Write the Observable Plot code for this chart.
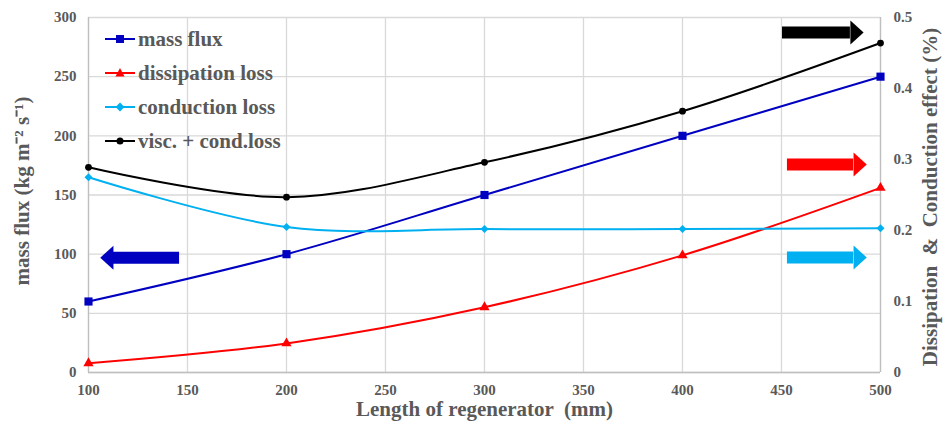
<!DOCTYPE html>
<html><head><meta charset="utf-8">
<script src="https://cdn.jsdelivr.net/npm/d3@7"></script>
<script src="https://cdn.jsdelivr.net/npm/@observablehq/plot@0.6"></script>
<style>
body{margin:0;background:#fff}
#wrap{position:relative;width:945px;height:428px;font-family:"Liberation Serif","Times New Roman",serif;font-weight:bold;color:#595959}
#legend{position:absolute;left:105px;top:22px}
.item{display:flex;align-items:center;height:34px;font-size:21px;white-space:nowrap}
.item svg{margin-right:3px}
</style>
</head><body>
<div id="wrap"><div id="chart"></div><div id="legend"></div></div>
<script>
// ---- data ----
const lengths = [100, 200, 300, 400, 500];
const massFlux = [60, 100, 150, 200, 250];            // left axis
const dissipationLoss = [0.013, 0.041, 0.092, 0.165, 0.26];   // right axis (%)
const conductionLoss = [0.275, 0.205, 0.202, 0.202, 0.203];  // right axis (%)
const viscCondLoss = [0.289, 0.247, 0.296, 0.368, 0.464];    // right axis (%)

const seriesNames = ["mass flux", "dissipation loss", "conduction loss", "visc. + cond.loss"];
const seriesColors = ["#0000c0", "#ff0000", "#00b0f0", "#000000"];
const seriesSymbols = ["square", "triangle", "diamond2", "circle"];

const xTicks = [100, 150, 200, 250, 300, 350, 400, 450, 500];
const leftTicks = [0, 50, 100, 150, 200, 250, 300];
const rightTicks = [0, 0.1, 0.2, 0.3, 0.4, 0.5];

const xTitle = "Length of regenerator  (mm)";
const leftTitle = "mass flux (kg m\u207B\u00B2 s\u207B\u00B9)";
const rightTitle = "Dissipation  &  Conduction effect (%)";

// annotation arrows: tail x, head-base x, y (left-axis units), direction, colour
const arrowTail = [146, 450.5, 453, 453];
const arrowBase = [112.6, 484.8, 486.4, 486.4];
const arrowY = [97, 287.3, 175.8, 97.2];
const arrowDir = ["left", "right", "right", "right"];
const arrowColor = ["#0000c0", "#000000", "#ff0000", "#00b0f0"];

// ---- build ----
const k = 300 / 0.5; // right -> left axis factor
const rightSeries = [dissipationLoss, conductionLoss, viscCondLoss];
const rows = [];
lengths.forEach((x, i) => rows.push({s: 0, x, y: massFlux[i]}));
rightSeries.forEach((arr, j) => lengths.forEach((x, i) => rows.push({s: j + 1, x, y: arr[i] * k})));

const arrows = arrowTail.map((t, i) => ({tail: t, base: arrowBase[i], y: arrowY[i], dir: arrowDir[i], c: arrowColor[i]}));
const headSymbol = {draw(ctx, size) {
  const r = Math.sqrt(size / Math.PI);
  ctx.moveTo(0, -r); ctx.lineTo(r * 1.1, 0); ctx.lineTo(0, r); ctx.closePath();
}};

const grey = "#595959";
const lineMarks = seriesNames.map((n, j) => Plot.line(rows.filter(d => d.s === j), {
  x: "x", y: "y", stroke: seriesColors[j], strokeWidth: 2, curve: "catmull-rom"
}));
const dotR = [4.6, 3.8, 3.6, 3.4];
const dotMarks = seriesNames.map((n, j) => Plot.dot(rows.filter(d => d.s === j), {
  x: "x", y: "y", fill: seriesColors[j], stroke: "none", symbol: seriesSymbols[j], r: dotR[j]
}));

const chart = Plot.plot({
  width: 945, height: 428,
  marginLeft: 88, marginRight: 65, marginTop: 17, marginBottom: 56,
  x: {domain: [100, 500]},
  y: {domain: [0, 300]},
  style: {fontFamily: '"Liberation Serif","Times New Roman",serif', fontWeight: "bold", fontSize: "15px", color: grey, background: "white"},
  marks: [
    Plot.gridX(xTicks, {stroke: "#d9d9d9", strokeOpacity: 1, strokeWidth: 1.3}),
    Plot.gridY(leftTicks, {stroke: "#d9d9d9", strokeOpacity: 1, strokeWidth: 1.3}),
    Plot.ruleX([100, 500], {stroke: "#bfbfbf", strokeWidth: 1.3}),
    Plot.ruleY([0], {stroke: "#bfbfbf", strokeWidth: 1.3}),
    Plot.axisX(xTicks, {tickSize: 0, tickPadding: 12, label: null, fill: grey}),
    Plot.axisY(leftTicks, {tickSize: 0, tickPadding: 12, label: null, fill: grey}),
    Plot.axisY(rightTicks.map(v => v * k), {anchor: "right", tickSize: 0, tickPadding: 13, label: null, fill: grey,
      tickFormat: d => String(+(d / k).toFixed(1))}),
    ...lineMarks,
    ...dotMarks,
    Plot.ruleY(arrows, {y: "y", x1: "tail", x2: "base", stroke: "c", strokeWidth: 12}),
    Plot.dot(arrows, {x: "base", y: "y", fill: "c", stroke: "none", symbol: headSymbol, r: 12,
      rotate: d => d.dir === "left" ? 180 : 0}),
    Plot.text([xTitle], {frameAnchor: "bottom", dy: 43, fontSize: 21, text: d => d, fill: grey, textAnchor: "middle"}),
    Plot.text([leftTitle], {frameAnchor: "left", dx: -66, dy: -4, rotate: -90, fontSize: 21, text: d => d, fill: grey, textAnchor: "middle", lineAnchor: "middle"}),
    Plot.text([rightTitle], {frameAnchor: "right", dx: 50, dy: 2, rotate: -90, fontSize: 21, text: d => d, fill: grey, textAnchor: "middle", lineAnchor: "middle"})
  ]
});
document.getElementById("chart").appendChild(chart);

// legend
const shapes = {
  square: c => `<rect x="11" y="6" width="8" height="8" fill="${c}"/>`,
  triangle: c => `<path d="M15 5 L19.5 13.5 L10.5 13.5 Z" fill="${c}"/>`,
  diamond2: c => `<path d="M15 5.5 L19.5 10 L15 14.5 L10.5 10 Z" fill="${c}"/>`,
  circle: c => `<circle cx="15" cy="10" r="3.5" fill="${c}"/>`
};
const leg = document.getElementById("legend");
seriesNames.forEach((n, j) => {
  const div = document.createElement("div");
  div.className = "item";
  div.innerHTML = `<svg width="30" height="20"><line x1="0" x2="30" y1="10" y2="10" stroke="${seriesColors[j]}" stroke-width="2"/>${shapes[seriesSymbols[j]](seriesColors[j])}</svg><span>${n}</span>`;
  leg.appendChild(div);
});
</script>
</body></html>
